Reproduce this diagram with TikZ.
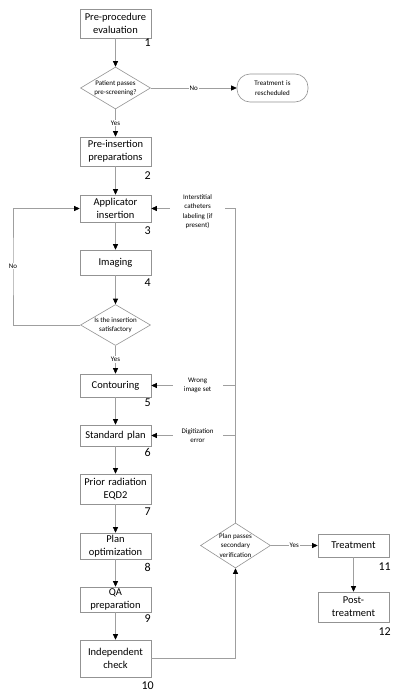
\documentclass[tikz,border=0pt]{standalone}
\usepackage{fontspec}
\setmainfont{Carlito}
\usetikzlibrary{arrows.meta,shapes.geometric}
\tikzset{
  stepbox/.style={draw=gray!85, fill=white, line width=0.6pt, inner sep=0pt,
    text width=70pt, minimum width=71pt, align=center,
    font=\fontsize{10.5}{13}\selectfont},
  endbox/.style={stepbox, rounded corners=13pt, font=\fontsize{7}{10}\selectfont},
  decide/.style={draw=gray!85, fill=white, line width=0.6pt, diamond, inner sep=0pt,
    minimum width=70pt, minimum height=42pt},
  small/.style={font=\fontsize{7}{9.5}\selectfont, align=center, inner sep=1pt},
  num/.style={font=\fontsize{12}{12}\selectfont, anchor=east, inner sep=0pt},
  line/.style={draw=gray!75, line width=0.6pt},
  arr/.style={line, -{Triangle[length=5.5pt,width=5pt,color=black]}},
}
\begin{document}
\begin{tikzpicture}[x=1pt,y=-1pt]
        \useasboundingbox (0,0) rectangle (400,699);
        % main column
        \node[stepbox, minimum height=29pt] (s1) at (115.5, 23.5) {Pre-procedure\\evaluation};
        \node[decide, label={[small]center:Patient passes\\pre-screening?}] (d1) at (115.5, 88) {};
        \node[endbox, minimum height=28pt] (r1) at (272.5, 88) {Treatment is\\rescheduled};
        \node[stepbox, minimum height=29pt] (s2) at (115.5, 151.5) {Pre-insertion\\preparations};
        \node[stepbox, minimum height=27pt] (s3) at (115.5, 208.5) {Applicator\\insertion};
        \node[stepbox, minimum height=25pt] (s4) at (115.5, 262.5) {Imaging};
        \node[decide, minimum height=41pt, label={[small]center:Is the insertion\\satisfactory}] (d2) at (115.5, 325) {};
        \node[stepbox, minimum height=23pt] (s5) at (115.5, 385.5) {Contouring};
        \node[stepbox, minimum height=21pt] (s6) at (115.5, 435.5) {Standard plan};
        \node[stepbox, minimum height=30pt] (s7) at (115.5, 489) {Prior radiation\\EQD2};
        \node[stepbox, minimum height=26pt] (s8) at (115.5, 546) {Plan\\optimization};
        \node[stepbox, minimum height=25pt] (s9) at (115.5, 599.5) {QA\\preparation};
        \node[stepbox, minimum height=37pt] (s10) at (115.5, 658.5) {Independent\\check};
        % right part
        \node[decide, minimum height=45pt, label={[small]center:Plan passes\\secondary\\verification}] (d3) at (235.5, 545.5) {};
        \node[stepbox, minimum height=23pt] (s11) at (353.5, 545.5) {Treatment};
        \node[stepbox, minimum height=30pt] (s12) at (353.5, 607) {Post-\\treatment};
        % step numbers
        \node[num] (n1) at (151, 43) {1};
        \node[num] (n2) at (151, 176) {2};
        \node[num] (n3) at (151, 231) {3};
        \node[num] (n4) at (151, 283) {4};
        \node[num] (n5) at (151, 403) {5};
        \node[num] (n6) at (151, 452) {6};
        \node[num] (n7) at (151, 512) {7};
        \node[num] (n8) at (151, 567) {8};
        \node[num] (n9) at (151, 619) {9};
        \node[num] (n10) at (154, 686) {10};
        \node[num] (n11) at (391, 567) {11};
        \node[num] (n12) at (391, 632) {12};
        % connectors
        \coordinate (noturn) at (13, 266);
        \draw[arr] (s1) -- (d1);
        \draw[arr] (d1) -- node[small, fill=white] {No} (r1);
        \draw[arr] (d1) -- node[small, fill=white] {Yes} (s2);
        \draw[arr] (s2) -- (s3);
        \draw[arr] (s3) -- (s4);
        \draw[arr] (s4) -- (d2);
        \draw[arr] (d2.west) -| (noturn) |- (s3.west);
        \node[small, fill=white] (nolbl) at (noturn) {No};
        \draw[arr] (d2) -- node[small, fill=white] {Yes} (s5);
        \draw[arr] (s5) -- (s6);
        \draw[arr] (s6) -- (s7);
        \draw[arr] (s7) -- (s8);
        \draw[arr] (s8) -- (s9);
        \draw[arr] (s9) -- (s10);
        \draw[arr] (s10.east) -| (d3.south);
        \draw[arr] (d3.north) |- node[pos=0.725, small, fill=white, minimum width=55pt, yshift=-3pt] {Interstitial\\catheters\\labeling (if\\present)} (s3.east);
        \draw[arr] (d3.north |- s5.east) -- node[pos=0.45, small, fill=white, minimum width=50pt] {Wrong\\image set} (s5.east);
        \draw[arr] (d3.north |- s6.east) -- node[pos=0.45, small, fill=white, minimum width=50pt] {Digitization\\error} (s6.east);
        \draw[arr] (d3) -- node[small, fill=white] {Yes} (s11);
        \draw[arr] (s11) -- (s12);
\end{tikzpicture}
\end{document}
